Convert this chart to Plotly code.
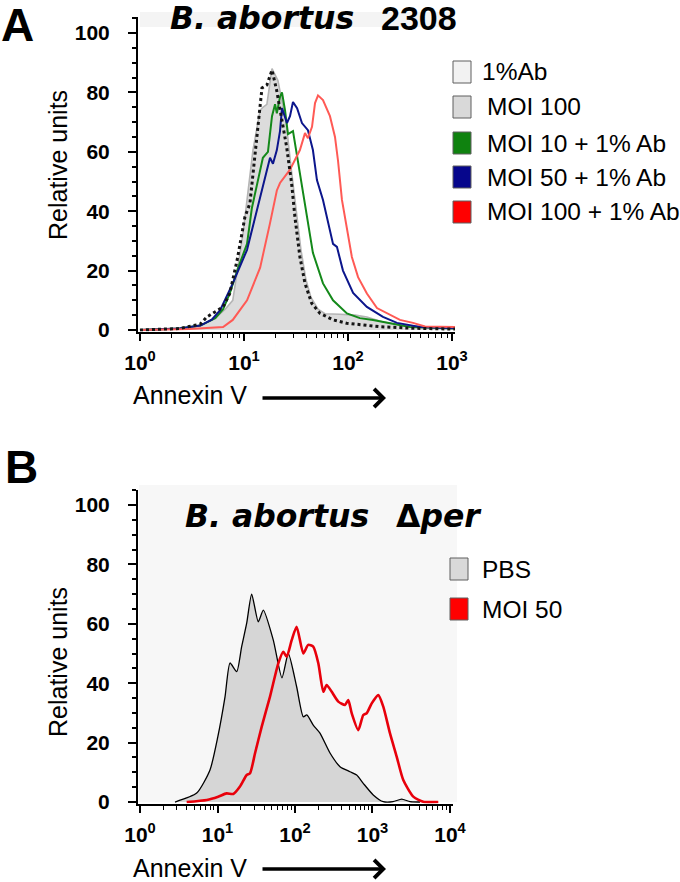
import plotly.graph_objects as go

# ---------------- Panel A data (B. abortus 2308) ----------------
ab_x = [1, 2.4, 3.8, 4.4, 6.3, 7.3, 8.6, 10.2, 11.4, 13.3, 14.9, 16.6, 18.6, 20.6, 23.7, 25.7,
        28.7, 30.9, 34.5, 38.6, 44.8, 53.8, 72, 97, 203, 422, 1070]
ab_y = [0, 0.5, 2, 4.4, 7.8, 12.3, 23.6, 38, 42.6, 66, 81.5, 82.5, 87.5, 80.8, 68, 61.7,
        49.4, 38, 24.6, 15.7, 9, 5.6, 3.4, 2.3, 1.1, 0.6, 0.3]

moi100_x = [1, 2.4, 3.8, 5.3, 6.6, 7.8, 9.8, 12.2, 14.3, 15.2, 16.6, 18.6, 21.2, 25.4, 28.3,
            31.6, 35.3, 39.4, 44.1, 51.5, 60.1, 83.7, 117, 152, 217, 316, 614, 1069]
moi100_y = [0, 0.4, 1.5, 4, 7, 10, 32.6, 60.6, 74, 75, 76, 88, 84, 70, 55,
            40, 27, 17, 11, 7, 5.5, 5.3, 5, 4.4, 2.7, 1.7, 1, 0.8]

moi10ab_x = [1, 2.4, 3.8, 5.3, 6.3, 7.3, 8.8, 10.7, 11.9, 13.3, 15.2, 17.0, 18.6, 19.9, 20.7,
             22.2, 23.2, 24.8, 26.5, 29.6, 34.5, 40.4, 46.0, 57.5, 71.8, 97.7, 130, 174, 254,
             394, 1069]
moi10ab_y = [0, 0.5, 1.5, 4, 7, 12.3, 21, 29, 41, 49, 58, 60, 72, 76, 73,
             78.5, 80, 74, 66, 67, 53, 39, 26, 15.7, 10, 5.6, 4, 3.4, 2.4,
             1, 0.5]

moi50ab_x = [1, 2.4, 3.8, 4.9, 5.9, 7.8, 10.7, 13.3, 15.9, 17.8, 19.0, 20.7, 22.2, 23.2, 25.9,
             27.7, 29.6, 32.4, 36.1, 41.2, 46.0, 50.3, 57.5, 67.1, 71.8, 78.3, 89.5, 112, 152,
             217, 296, 492, 1069]
moi50ab_y = [0, 0.5, 1.5, 3.5, 6.7, 15.7, 27, 40, 51.5, 58, 56, 60.6, 67, 74.7, 69.7,
             72, 76.8, 74.7, 69.7, 67.3, 60.6, 50.5, 43.8, 33.7, 29, 28, 20, 12.5, 7.8,
             4.4, 2.4, 1, 0.6]

moi100ab_x = [1, 3.0, 6.3, 7.8, 10.7, 14.3, 17.8, 20.7, 22.2, 27.7, 34.5, 38.6, 41.2, 45.1,
              48.2, 51.5, 57.5, 67.1, 75.0, 80.2, 87.5, 97.7, 109, 125, 152, 190, 237, 316,
              422, 550, 1069]
moi100ab_y = [0, 0.3, 1, 3.4, 10, 21, 36, 47, 49.5, 54, 60.6, 66.3, 64.6, 68.4,
              76.4, 79, 77.4, 72, 65, 57, 43.8, 33.7, 24.6, 17.8, 12.3, 7.4, 5.6, 3.4,
              2.4, 1.2, 1.0]

# ---------------- Panel B data (B. abortus Δper) ----------------
pbs_x = [2.83, 5.39, 8.0, 10.1, 12.5, 14.5, 17.7, 20.5, 23.8, 27.6, 33.6, 39.0, 52.5, 67.9,
         82.0, 105, 128, 142, 172, 210, 283, 381, 513, 625, 760, 1023, 1377, 1841, 2382,
         3048, 4102]
pbs_y = [0, 3, 10.8, 22, 35.4, 46.8, 43.9, 52.3, 60.2, 70, 60.7, 64.6, 54.5, 41.8,
         50, 38.8, 28.7, 29.3, 25.9, 23.2, 16.5, 11.9, 10.2, 9.1, 6.3, 2.4, 0.1, 0.1, 1,
         0.1, 0]

moi50_x = [4.0, 7.3, 10.2, 13.1, 16.0, 19.5, 23.8, 26.3, 30.5, 37.2, 47.6, 60.9, 70.6, 78.2,
           90.6, 105, 128, 148, 172, 200, 232, 256, 298, 362, 442, 487, 539, 656, 761, 842,
           977, 1188, 1378, 1683, 2053, 2497, 3360, 4520, 7063]
moi50_y = [0, 0.7, 1.8, 2.9, 2.7, 5.2, 9.1, 9.7, 16.4, 25.4, 35.5, 46.7, 50.6, 48.9,
           54.5, 59, 50, 52.9, 52.3, 46.7, 37.1, 39.4, 37.1, 33.8, 32.7, 34.3, 29.9, 24.2, 29.3, 29.9,
           33.2, 36, 32.1, 23.1, 15.3, 7.4, 1.8, 0.1, 0]

# ---------------- labels ----------------
legend_a = ["1%Ab", "MOI 100", "MOI 10 + 1% Ab", "MOI 50 + 1% Ab", "MOI 100 + 1% Ab"]
legend_b = ["PBS", "MOI 50"]
y_ticks = [0, 20, 40, 60, 80, 100]
x_ticks_a = [1, 10, 100, 1000]
x_ticks_b = [1, 10, 100, 1000, 10000]
x_ticktext_a = ["10<sup>0</sup>", "10<sup>1</sup>", "10<sup>2</sup>", "10<sup>3</sup>"]
x_ticktext_b = x_ticktext_a + ["10<sup>4</sup>"]

W, H = 680, 882


def px(x):
    return x / W


def py(y):
    return 1 - y / H


C_GREEN = "#14891a"
C_BLUE = "#0c168c"
C_RED_A = "#ff5a55"
C_RED_B = "#e8000b"

fig = go.Figure()

# Panel A traces
fig.add_trace(go.Scatter(x=moi100_x, y=moi100_y, mode="lines", fill="tozeroy",
                         fillcolor="#dcdcdc", line=dict(color="#b5b5b5", width=1.6),
                         xaxis="x", yaxis="y", showlegend=False, name=legend_a[1]))
fig.add_trace(go.Scatter(x=moi10ab_x, y=moi10ab_y, mode="lines",
                         line=dict(color=C_GREEN, width=2),
                         xaxis="x", yaxis="y", showlegend=False, name=legend_a[2]))
fig.add_trace(go.Scatter(x=moi50ab_x, y=moi50ab_y, mode="lines",
                         line=dict(color=C_BLUE, width=2),
                         xaxis="x", yaxis="y", showlegend=False, name=legend_a[3]))
fig.add_trace(go.Scatter(x=moi100ab_x, y=moi100ab_y, mode="lines",
                         line=dict(color=C_RED_A, width=2),
                         xaxis="x", yaxis="y", showlegend=False, name=legend_a[4]))
fig.add_trace(go.Scatter(x=ab_x, y=ab_y, mode="lines",
                         line=dict(color="#151515", width=3, dash="dot"),
                         xaxis="x", yaxis="y", showlegend=False, name=legend_a[0]))

# Panel B traces
fig.add_trace(go.Scatter(x=pbs_x, y=pbs_y, mode="lines", fill="tozeroy",
                         fillcolor="#d6d6d6", line=dict(color="#000000", width=1.3,
                                                        shape="spline", smoothing=0.6),
                         xaxis="x2", yaxis="y2", showlegend=False, name=legend_b[0]))
fig.add_trace(go.Scatter(x=moi50_x, y=moi50_y, mode="lines",
                         line=dict(color=C_RED_B, width=2.6, shape="spline", smoothing=0.6),
                         xaxis="x2", yaxis="y2", showlegend=False, name=legend_b[1]))

minor_a = [m * 10 ** k for k in range(0, 3) for m in range(2, 10)]
minor_b = [m * 10 ** k for k in range(0, 4) for m in range(2, 10)]

tickfont = dict(family="Liberation Sans, Arial, sans-serif", size=21, color="black",
                weight="bold")

common_x = dict(type="log", showline=True, linecolor="black", linewidth=2,
                ticks="outside", ticklen=7, tickwidth=2, tickcolor="black",
                showgrid=False, zeroline=False, tickfont=tickfont,
                ticklabelstandoff=4, automargin=False)
common_y = dict(showline=True, linecolor="black", linewidth=2,
                ticks="outside", ticklen=8, tickwidth=2, tickcolor="black",
                showgrid=False, zeroline=False, tickfont=tickfont,
                tickvals=y_ticks, ticklabelstandoff=14, automargin=False,
                minor=dict(dtick=5, ticks="outside", ticklen=4, tickwidth=1.5,
                           tickcolor="black", showgrid=False))

fig.update_layout(
    width=W, height=H, autosize=False,
    margin=dict(l=0, r=0, t=0, b=0, pad=0),
    paper_bgcolor="white", plot_bgcolor="rgba(0,0,0,0)",
    xaxis=dict(domain=[px(138), px(455)], range=[-0.019, 3.029], anchor="y",
               tickvals=x_ticks_a, ticktext=x_ticktext_a,
               minor=dict(tickmode="array", tickvals=minor_a, ticks="outside",
                          ticklen=4, tickwidth=1.2, tickcolor="black", showgrid=False),
               **common_x),
    yaxis=dict(domain=[py(331.5), py(17)], range=[-0.5, 105.4], anchor="x", **common_y),
    xaxis2=dict(domain=[px(138), px(453)], range=[-0.026, 4.039], anchor="y2",
                tickvals=x_ticks_b, ticktext=x_ticktext_b,
                minor=dict(tickmode="array", tickvals=minor_b, ticks="outside",
                           ticklen=4, tickwidth=1.2, tickcolor="black", showgrid=False),
                **common_x),
    yaxis2=dict(domain=[py(803.5), py(490)], range=[-0.5, 105.05], anchor="x2", **common_y),
)

shapes = []
# light backgrounds
shapes.append(dict(type="rect", xref="paper", yref="paper", x0=px(139), x1=px(457),
                   y0=py(802), y1=py(485), fillcolor="#f7f7f7", line=dict(width=0),
                   layer="below"))
shapes.append(dict(type="rect", xref="paper", yref="paper", x0=px(140), x1=px(455),
                   y0=py(27), y1=py(12), fillcolor="#f4f4f4", line=dict(width=0),
                   layer="below"))

# legend boxes panel A
leg_a_fill = ["#f2f2f2", "#d9d9d9", "#0f820f", "#06068c", "#ff0000"]
leg_a_y = [72, 107, 143, 177, 212]
for fc, yc in zip(leg_a_fill, leg_a_y):
    shapes.append(dict(type="rect", xref="paper", yref="paper", x0=px(453), x1=px(471),
                       y0=py(yc + 11), y1=py(yc - 11), fillcolor=fc,
                       line=dict(color="#5e5e5e", width=1)))
# legend boxes panel B
leg_b_fill = ["#d9d9d9", "#ff0000"]
leg_b_y = [569, 609]
for fc, yc in zip(leg_b_fill, leg_b_y):
    shapes.append(dict(type="rect", xref="paper", yref="paper", x0=px(450), x1=px(468),
                       y0=py(yc + 11), y1=py(yc - 11), fillcolor=fc,
                       line=dict(color="#5e5e5e", width=1)))

annotations = []
leg_font = dict(family="Liberation Sans, Arial, sans-serif", size=24.5, color="black")
for i, (txt, yc) in enumerate(zip(legend_a, leg_a_y)):
    annotations.append(dict(text=txt, xref="paper", yref="paper", x=px(480 if i == 0 else 485),
                            y=py(yc), xanchor="left", yanchor="middle", showarrow=False,
                            font=leg_font))
for txt, yc in zip(legend_b, leg_b_y):
    annotations.append(dict(text=txt, xref="paper", yref="paper", x=px(480),
                            y=py(yc), xanchor="left", yanchor="middle", showarrow=False,
                            font=leg_font))

title_it = dict(family="DejaVu Sans, sans-serif", size=31.5, color="black", weight="bold",
                style="italic")
title_up = dict(family="Liberation Sans, Arial, sans-serif", size=34, color="black",
                weight="bold")
annotations += [
    dict(text="B. abortus", xref="paper", yref="paper", x=px(168), y=py(18),
         xanchor="left", yanchor="middle", showarrow=False, font=title_it),
    dict(text="2308", xref="paper", yref="paper", x=px(379), y=py(18),
         xanchor="left", yanchor="middle", showarrow=False, font=title_up),
    dict(text="B. abortus", xref="paper", yref="paper", x=px(183), y=py(516),
         xanchor="left", yanchor="middle", showarrow=False, font=title_it),
    dict(text="Δ<i>per</i>", xref="paper", yref="paper", x=px(394), y=py(516),
         xanchor="left", yanchor="middle", showarrow=False,
         font=dict(family="DejaVu Sans, sans-serif", size=31.5, color="black", weight="bold")),
]

panel_font = dict(family="Liberation Sans, Arial, sans-serif", size=46, color="black",
                  weight="bold")
annotations += [
    dict(text="A", xref="paper", yref="paper", x=px(17), y=py(25), xanchor="center",
         yanchor="middle", showarrow=False, font=panel_font),
    dict(text="B", xref="paper", yref="paper", x=px(21), y=py(467), xanchor="center",
         yanchor="middle", showarrow=False, font=panel_font),
]

ax_font = dict(family="Liberation Sans, Arial, sans-serif", size=25, color="black")
for yc in (165, 662):
    annotations.append(dict(text="Relative units", xref="paper", yref="paper", x=px(58),
                            y=py(yc), xanchor="center", yanchor="middle", textangle=-90,
                            showarrow=False, font=ax_font))
for yc, ya in ((395, 398), (868, 869)):
    annotations.append(dict(text="Annexin V", xref="paper", yref="paper", x=px(190),
                            y=py(yc), xanchor="center", yanchor="middle",
                            showarrow=False, font=ax_font))
    annotations.append(dict(text="", xref="paper", yref="paper", x=px(386), y=py(ya),
                            ax=-125, ay=0, showarrow=True, arrowhead=4, arrowsize=1.0,
                            arrowwidth=3.5, arrowcolor="black"))

fig.update_layout(shapes=shapes, annotations=annotations)

fig.write_html("out.html", config={"displayModeBar": False},
               post_script="document.body.style.margin='0';document.body.style.padding='0';")
